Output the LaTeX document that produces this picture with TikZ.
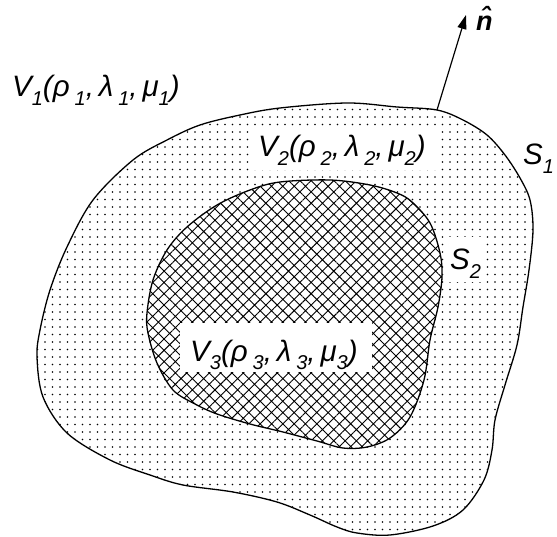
\documentclass[tikz,border=0pt]{standalone}
\usepackage{fontspec}
\setmainfont{Liberation Sans}
\usetikzlibrary{patterns.meta,arrows.meta}
\newcommand{\sbx}[1]{\raisebox{-0.28em}{\fontsize{20}{20}\selectfont #1}}
\tikzset{
  bnd/.style={line width=1.3pt, line join=round},
  lab/.style={font=\fontsize{29.5}{30}\selectfont\itshape, inner sep=0pt, anchor=base west},
  whitebox/.style={fill=white, draw=none},
}
\begin{document}
\begin{tikzpicture}[x=1pt,y=-1pt]
\useasboundingbox (0,0) rectangle (557,537);
% outer region S1
\def\outerpath{plot[smooth cycle, tension=0.55] coordinates {
 (93,200) (133,160) (167,140) (200,125) (240,115) (280,108) (347,103) (397,107)
 (437,110) (463,120) (487,135) (505,155) (520,178) (530,200) (533,230) (529,270)
 (523,307) (517,345) (505,385) (495,420) (492,450) (484,480) (463,510) (433,526)
 (390,535) (357,533) (337,527) (310,515) (277,502) (233,492) (183,485) (150,475)
 (110,460) (67,433) (43,397) (37,357) (40,330) (50,290) (67,247)}}
\def\innerpath{plot[smooth cycle, tension=0.55] coordinates {
 (250,190) (280,182) (330,180) (370,185) (397,193) (412,202) (430,223) (440,253)
 (442,277) (438,307) (430,340) (424,380) (410,417) (390,438) (367,447) (343,448)
 (317,441) (283,432) (250,424) (217,414) (195,404) (173,390) (157,363) (148,333)
 (147,313) (153,280) (167,250) (187,227) (217,205)}}
\fill[pattern={Dots[distance=7.5pt,radius=0.9pt]}, pattern color=black] \outerpath;
\fill[white] \innerpath;
\fill[pattern={Hatch[angle=45,distance=8pt,line width=0.9pt]}] \innerpath;
\draw[bnd] \outerpath;
\draw[bnd] \innerpath;
% white label boxes
\fill[whitebox] (252,128) rectangle (440,170);
\fill[whitebox] (180,323) rectangle (372,372);
\fill[whitebox] (445,237) rectangle (484,282);
% labels
\node[lab] (v1) at (12,97) {V\sbx{1}(ρ\,\sbx{1},\,λ\,\sbx{1},\,μ\sbx{1})};
\node[lab] (v2) at (258,157) {V\sbx{2}(ρ\,\sbx{2},\,λ\,\sbx{2},\,μ\sbx{2})};
\node[lab] (v3) at (190,361) {V\sbx{3}(ρ\,\sbx{3},\,λ\,\sbx{3},\,μ\sbx{3})};
\node[lab] (s1) at (523,165) {S\sbx{1}};
\node[lab] (s2) at (450,270) {S\sbx{2}};
% normal vector
\coordinate (base) at (437,110);
\coordinate (tip) at (466,15);
\draw[line width=1.2pt, -{Triangle[length=14pt,width=9pt]}] (base) -- (tip);
\node[font=\fontsize{27}{27}\selectfont\bfseries\itshape, inner sep=0pt, anchor=base west] (n) at (476,31) {\^n};
\end{tikzpicture}
\end{document}
